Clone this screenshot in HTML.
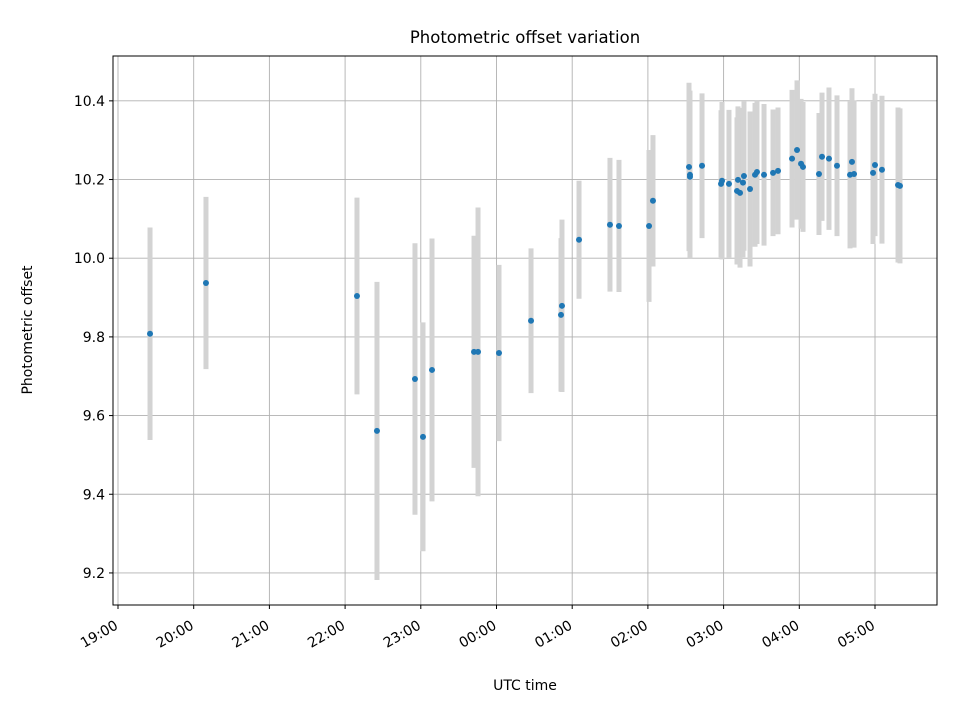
<!DOCTYPE html>
<html><head><meta charset="utf-8"><style>
body{margin:0;background:#fff;}
svg{display:block;font-family:"DejaVu Sans","Liberation Sans",sans-serif;}
</style></head><body>
<svg id="chart" width="960" height="720" xmlns="http://www.w3.org/2000/svg">
<rect width="960" height="720" fill="#fff"/>
<text x="525" y="43" font-size="16.5" text-anchor="middle">Photometric offset variation</text>
<text x="525" y="690" font-size="14" text-anchor="middle">UTC time</text>
<text x="32" y="330" font-size="14" text-anchor="middle" transform="rotate(-90 32 330)">Photometric offset</text>
<g id="grid"></g>
<g id="errbars"></g>
<g id="points"></g>
<rect x="113" y="56" width="824" height="549" fill="none" stroke="#000" stroke-width="1"/>
<g id="ticks"></g>
</svg>
<script>
// hours since 19:00 UTC
const times = [0.423,1.162,3.157,3.421,3.923,4.029,4.148,4.703,4.756,5.033,5.456,5.852,5.865,6.090,6.499,6.618,7.015,7.067,
7.543,7.556,7.556,7.715,7.966,7.979,8.071,8.177,8.190,8.217,8.256,8.269,8.349,8.415,8.441,8.534,8.653,8.719,8.904,8.970,9.023,9.049,9.260,9.300,9.392,9.498,9.670,9.696,9.723,9.974,10.0,10.092,10.304,10.330];
const offsets = [9.808,9.937,9.904,9.561,9.693,9.546,9.716,9.762,9.762,9.759,9.841,9.856,9.879,10.047,10.085,10.082,10.082,10.146,
10.232,10.212,10.207,10.235,10.189,10.197,10.189,10.171,10.199,10.166,10.192,10.209,10.176,10.212,10.219,10.212,10.217,10.222,10.253,10.275,10.240,10.232,10.214,10.258,10.253,10.235,10.212,10.245,10.214,10.217,10.237,10.225,10.186,10.184];
const errors = [0.270,0.219,0.250,0.379,0.345,0.291,0.334,0.295,0.367,0.224,0.184,0.195,0.219,0.150,0.170,0.168,0.193,0.167,
0.214,0.214,0.19,0.184,0.187,0.20,0.188,0.187,0.187,0.19,0.19,0.19,0.197,0.183,0.183,0.18,0.161,0.161,0.175,0.177,0.165,0.165,0.155,0.163,0.181,0.179,0.187,0.187,0.187,0.181,0.181,0.188,0.197,0.197];
const xTickLabels = ["19:00","20:00","21:00","22:00","23:00","00:00","01:00","02:00","03:00","04:00","05:00"];
const yTickLabels = ["9.2","9.4","9.6","9.8","10.0","10.2","10.4"];

const NS="http://www.w3.org/2000/svg";
const L=113,R=937,T=56,B=605;
const xMin=-0.066,xMax=10.819,yMin=9.1185,yMax=10.514;
const xs=h=>L+(h-xMin)/(xMax-xMin)*(R-L);
const ys=v=>B-(v-yMin)/(yMax-yMin)*(B-T);
function mk(tag,attrs,parent){const e=document.createElementNS(NS,tag);for(const k in attrs)e.setAttribute(k,attrs[k]);document.getElementById(parent).appendChild(e);return e;}
xTickLabels.forEach((lab,i)=>{
  const x=xs(i);
  const g=mk('line',{x1:x,x2:x,y1:T,y2:B,stroke:'#b0b0b0','stroke-width':0.9},'grid');
  
  
  const t=mk('line',{x1:x,x2:x,y1:B,y2:B+4,stroke:'#000','stroke-width':1},'ticks');
  
  
  const tx=mk('text',{x:x+1,y:B+23,'font-size':14,'text-anchor':'end',transform:`rotate(-30 ${x+1} ${B+23})`},'ticks');
  tx.textContent=lab;
  
  
});
yTickLabels.forEach(lab=>{
  const y=ys(parseFloat(lab));
  const g=mk('line',{x1:L,x2:R,y1:y,y2:y,stroke:'#b0b0b0','stroke-width':0.9},'grid');
  
  
  const t=mk('line',{x1:L-4,x2:L,y1:y,y2:y,stroke:'#000','stroke-width':1},'ticks');
  
  
  const tx=mk('text',{x:L-8,y:y+5,'font-size':14,'text-anchor':'end'},'ticks');
  tx.textContent=lab;
  
  
});
times.forEach((h,i)=>{
  const x=xs(h);
  const b=mk('line',{x1:x,x2:x,y1:ys(offsets[i]+errors[i]),y2:ys(offsets[i]-errors[i]),stroke:'#d3d3d3','stroke-width':5},'errbars');
  
  
});
times.forEach((h,i)=>{
  const c=mk('circle',{cx:xs(h),cy:ys(offsets[i]),r:3,fill:'#1f77b4'},'points');
  
  
});
</script>
</body></html>
